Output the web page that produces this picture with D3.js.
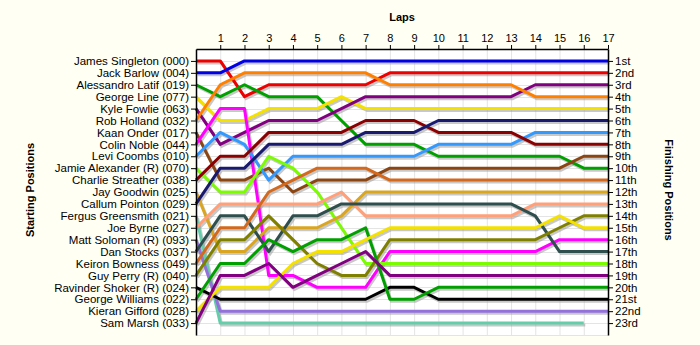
<!DOCTYPE html>
<html>
<head>
<meta charset="utf-8">
<script src="https://cdn.jsdelivr.net/npm/d3@7"></script>
<style>
  body { margin: 0; background: #fffff4; }
  svg { display: block; font-family: "Liberation Sans", Arial, sans-serif; }
</style>
</head>
<body>
<div id="chart"><svg></svg></div>
<script>
// starting grid order
const drivers = [
  "James Singleton (000)", "Jack Barlow (004)", "Alessandro Latif (019)",
  "George Line (077)", "Kyle Fowlie (063)", "Rob Holland (032)",
  "Kaan Onder (017)", "Colin Noble (044)", "Levi Coombs (010)",
  "Jamie Alexander (R) (070)", "Charlie Streather (038)", "Jay Goodwin (025)",
  "Callum Pointon (029)", "Fergus Greensmith (021)", "Joe Byrne (027)",
  "Matt Soloman (R) (093)", "Dan Stocks (037)", "Keiron Bowness (049)",
  "Guy Perry (R) (040)", "Ravinder Shoker (R) (024)", "George Williams (022)",
  "Kieran Gifford (028)", "Sam Marsh (033)"
];

const finishLabels = [
  "1st", "2nd", "3rd", "4th", "5th", "6th", "7th", "8th", "9th", "10th",
  "11th", "12th", "13th", "14th", "15th", "16th", "17th", "18th", "19th",
  "20th", "21st", "22nd", "23rd"
];

const laps = [1, 2, 3, 4, 5, 6, 7, 8, 9, 10, 11, 12, 13, 14, 15, 16, 17];

// position of each driver at lap 0..17 (same order as drivers)
const positions = [
  [1, 1, 4, 3, 3, 3, 3, 3, 2, 2, 2, 2, 2, 2, 2, 2, 2, 2],
  [2, 2, 1, 1, 1, 1, 1, 1, 1, 1, 1, 1, 1, 1, 1, 1, 1, 1],
  [3, 4, 3, 4, 4, 4, 6, 8, 8, 8, 9, 9, 9, 9, 9, 9, 10, 10],
  [4, 6, 6, 5, 5, 5, 4, 5, 5, 5, 5, 5, 5, 5, 5, 5, 5, 5],
  [5, 8, 7, 6, 6, 6, 5, 4, 4, 4, 4, 4, 4, 4, 3, 3, 3, 3],
  [6, 3, 2, 2, 2, 2, 2, 2, 3, 3, 3, 3, 3, 3, 4, 4, 4, 4],
  [7, 11, 11, 10, 12, 11, 11, 11, 10, 10, 10, 10, 10, 10, 10, 10, 9, 9],
  [8, 5, 5, 19, 19, 20, 20, 20, 17, 17, 17, 17, 17, 17, 17, 16, 16, 16],
  [9, 7, 8, 11, 9, 9, 9, 9, 9, 9, 8, 8, 8, 8, 7, 7, 7, 7],
  [10, 12, 12, 9, 10, 12, 15, 18, 18, 18, 18, 18, 18, 18, 18, 18, 18, 18],
  [11, 9, 9, 7, 7, 7, 7, 6, 6, 6, 7, 7, 7, 7, 8, 8, 8, 8],
  [12, 17, 17, 15, 15, 15, 14, 12, 12, 12, 12, 12, 12, 12, 12, 12, 12, 12],
  [13, 10, 10, 8, 8, 8, 8, 7, 7, 7, 6, 6, 6, 6, 6, 6, 6, 6],
  [14, 23, 23, 23, 23, 23, 23, 23, 23, 23, 23, 23, 23, 23, 23, 23, 23],
  [15, 13, 13, 13, 13, 13, 12, 14, 14, 14, 14, 14, 14, 14, 13, 13, 13, 13],
  [16, 22, 22, 22, 22, 22, 22, 22, 22, 22, 22, 22, 22, 22, 22, 22, 22, 22],
  [17, 14, 14, 17, 14, 14, 13, 13, 13, 13, 13, 13, 13, 13, 14, 17, 17, 17],
  [18, 15, 15, 12, 11, 10, 10, 10, 11, 11, 11, 11, 11, 11, 11, 11, 11, 11],
  [19, 16, 16, 14, 16, 18, 19, 19, 16, 16, 16, 16, 16, 16, 16, 15, 14, 14],
  [20, 21, 21, 21, 21, 21, 21, 21, 20, 20, 21, 21, 21, 21, 21, 21, 21, 21],
  [21, 18, 18, 16, 17, 16, 16, 15, 21, 21, 20, 20, 20, 20, 20, 20, 20, 20],
  [22, 20, 20, 20, 18, 17, 17, 16, 15, 15, 15, 15, 15, 15, 15, 14, 15, 15],
  [23, 19, 19, 18, 20, 19, 18, 17, 19, 19, 19, 19, 19, 19, 19, 19, 19, 19]
];

const colors = [
  "#ee0000", "#0000e6", "#00a000", "#f5e100", "#800080", "#ff8000",
  "#8b4513", "#ff00ff", "#3399ff", "#7cfc00", "#8b0000", "#daa520",
  "#191970", "#66cdaa", "#ffa07a", "#9370db", "#2f4f4f", "#d2691e",
  "#808000", "#000000", "#00a000", "#f5e100", "#800080"
];

var W = 700, H = 345;
var plotLeft = 196, plotRight = 608, plotTop = 49, plotBottom = 335;

var svg = d3.select("#chart > svg").attr("width", W).attr("height", H);

svg.append("rect").attr("width", W).attr("height", H).attr("fill", "#fffff4");
svg.append("rect")
  .attr("x", plotLeft).attr("y", plotTop)
  .attr("width", plotRight - plotLeft).attr("height", plotBottom - plotTop)
  .attr("fill", "#ffffff");

var x = d3.scaleLinear().domain([0, 17]).range([plotLeft, plotRight]);
var y = d3.scaleLinear().domain([0, 24]).range([plotTop, plotBottom]);

// grid
var grid = svg.append("g").attr("stroke", "#e4e4e4").attr("stroke-width", 1);
grid.selectAll("line.v").data(laps).join("line")
  .attr("class", "v")
  .attr("x1", d => x(d) + 0.5).attr("x2", d => x(d) + 0.5)
  .attr("y1", plotTop).attr("y2", plotBottom);
grid.selectAll("line.h").data(d3.range(1, 25)).join("line")
  .attr("class", "h")
  .attr("x1", plotLeft).attr("x2", plotRight)
  .attr("y1", d => Math.round(y(d)) + 0.5).attr("y2", d => Math.round(y(d)) + 0.5);

var line = d3.line()
  .x((d, i) => x(i))
  .y(d => y(d));

// shadows first
svg.append("g")
  .attr("transform", "translate(1.5,2)")
  .selectAll("path").data(positions).join("path")
  .attr("fill", "none")
  .attr("stroke", "#9a9a9a")
  .attr("stroke-opacity", 0.55)
  .attr("stroke-width", 3)
  .attr("d", line);

svg.append("g")
  .selectAll("path").data(positions).join("path")
  .attr("fill", "none")
  .attr("stroke", (d, i) => colors[i])
  .attr("stroke-width", 3)
  .attr("stroke-linejoin", "round")
  .attr("d", line);

// axes
var topAxis = svg.append("g")
  .attr("transform", `translate(0,${plotTop})`)
  .call(d3.axisTop(x).tickValues(laps).tickSize(4).tickSizeOuter(0));

var leftAxis = svg.append("g")
  .attr("transform", `translate(${plotLeft},0)`)
  .call(d3.axisLeft(y).tickValues(d3.range(1, 24))
    .tickFormat(d => drivers[d - 1]).tickSize(5).tickPadding(2).tickSizeOuter(0));

var rightAxis = svg.append("g")
  .attr("transform", `translate(${plotRight},0)`)
  .call(d3.axisRight(y).tickValues(d3.range(1, 24))
    .tickFormat(d => finishLabels[d - 1]).tickSize(5).tickPadding(2).tickSizeOuter(0));

[topAxis, leftAxis, rightAxis].forEach(a => {
  a.attr("font-size", 11).attr("font-family", "Liberation Sans, Arial, sans-serif");
  a.selectAll("text").attr("fill", "#000");
  a.selectAll("line, path").attr("stroke", "#000");
  a.select(".domain").attr("stroke-width", 1.5);
});
leftAxis.attr("font-size", 11.5);
rightAxis.attr("font-size", 11.5);

// titles
svg.append("text")
  .attr("x", 402).attr("y", 21)
  .attr("text-anchor", "middle")
  .attr("font-size", 11).attr("font-weight", "bold")
  .text("Laps");

svg.append("text")
  .attr("transform", "translate(34,190) rotate(-90)")
  .attr("text-anchor", "middle")
  .attr("font-size", 11).attr("font-weight", "bold")
  .text("Starting Positions");

svg.append("text")
  .attr("transform", "translate(665,190) rotate(90)")
  .attr("text-anchor", "middle")
  .attr("font-size", 11).attr("font-weight", "bold")
  .text("Finishing Positions");
</script>
</body>
</html>
